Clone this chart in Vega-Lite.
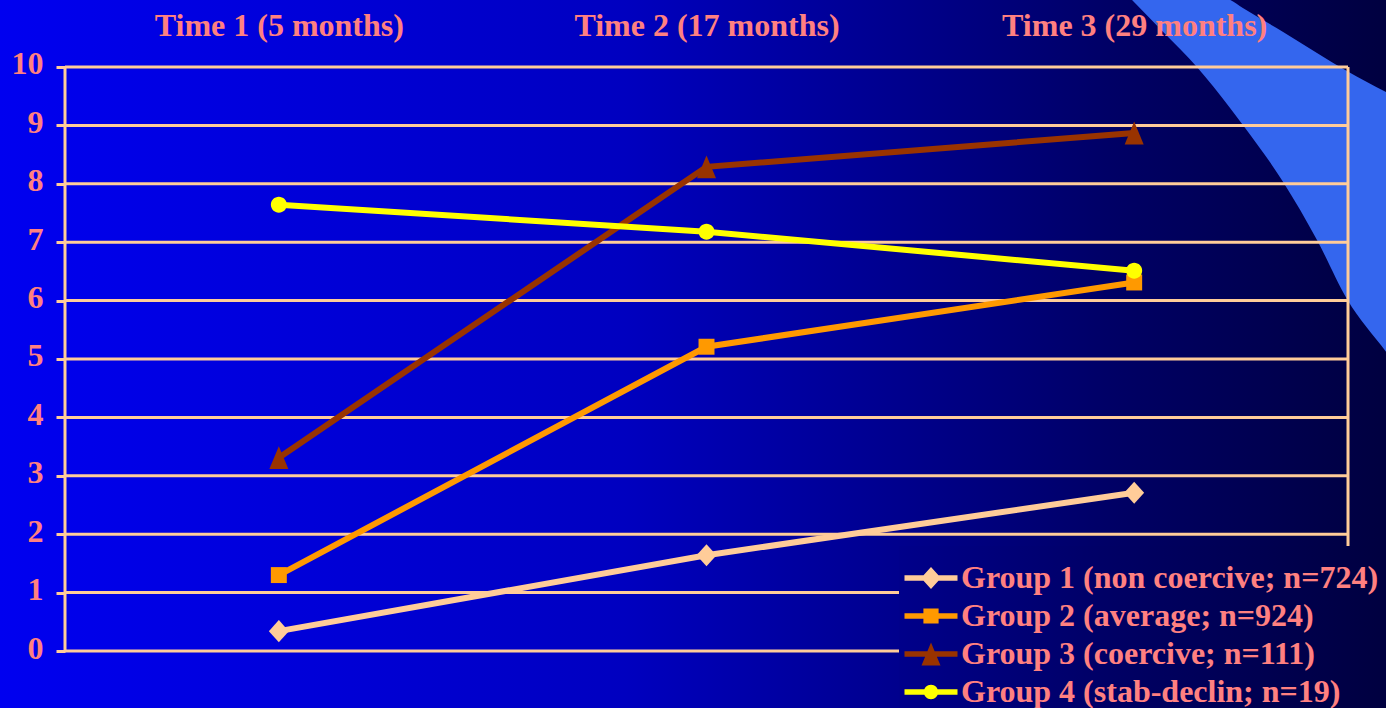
{
  "$schema": "https://vega.github.io/schema/vega-lite/v6.json",
  "width": 1386,
  "height": 708,
  "autosize": {"type": "none"},
  "padding": 0,
  "background": "#0000A0",
  "config": {
    "font": "Liberation Serif",
    "view": {
      "stroke": null,
      "fill": {
        "gradient": "linear", "x1": 0, "y1": 0, "x2": 1, "y2": 0,
        "stops": [
          {"offset": 0, "color": "#0000F0"},
          {"offset": 0.45, "color": "#0000C0"},
          {"offset": 0.8, "color": "#000066"},
          {"offset": 1, "color": "#000040"}
        ]
      }
    }
  },
  "datasets": {
    "scores": [
      {"group": "Group 1 (non coercive; n=724)", "month": 5, "score": 0.34},
      {"group": "Group 1 (non coercive; n=724)", "month": 17, "score": 1.64},
      {"group": "Group 1 (non coercive; n=724)", "month": 29, "score": 2.71},
      {"group": "Group 2 (average; n=924)", "month": 5, "score": 1.30},
      {"group": "Group 2 (average; n=924)", "month": 17, "score": 5.21},
      {"group": "Group 2 (average; n=924)", "month": 29, "score": 6.31},
      {"group": "Group 3 (coercive; n=111)", "month": 5, "score": 3.31},
      {"group": "Group 3 (coercive; n=111)", "month": 17, "score": 8.29},
      {"group": "Group 3 (coercive; n=111)", "month": 29, "score": 8.87},
      {"group": "Group 4 (stab-declin; n=19)", "month": 5, "score": 7.64},
      {"group": "Group 4 (stab-declin; n=19)", "month": 17, "score": 7.18},
      {"group": "Group 4 (stab-declin; n=19)", "month": 29, "score": 6.51}
    ],
    "levels": [
      {"level": 0}, {"level": 1}, {"level": 2}, {"level": 3}, {"level": 4}, {"level": 5},
      {"level": 6}, {"level": 7}, {"level": 8}, {"level": 9}, {"level": 10}
    ],
    "swoosh": [
      {"month": 28.70, "upper": 11.30, "lower": 11.30},
      {"month": 28.94, "upper": 11.30, "lower": 11.147},
      {"month": 29.87, "upper": 11.30, "lower": 10.565},
      {"month": 30.76, "upper": 11.30, "lower": 10.0},
      {"month": 31.69, "upper": 11.15, "lower": 9.298},
      {"month": 32.05, "upper": 11.01, "lower": 9.007},
      {"month": 33.18, "upper": 10.60, "lower": 8.031},
      {"month": 34.13, "upper": 10.24, "lower": 7.037},
      {"month": 34.97, "upper": 9.93, "lower": 6.027},
      {"month": 36.07, "upper": 9.57, "lower": 5.120},
      {"month": 36.30, "upper": 9.50, "lower": 4.930}
    ]
  },
  "layer": [
    {
      "data": {"name": "swoosh"},
      "mark": {"type": "area", "color": "#3466EE", "opacity": 1, "interpolate": "monotone"},
      "encoding": {
        "x": {"field": "month", "type": "quantitative", "scale": {"domain": [-2.824, 36.066], "nice": false, "zero": false}},
        "y": {"field": "upper", "type": "quantitative", "scale": {"domain": [-0.976, 11.147], "nice": false, "zero": false}},
        "y2": {"field": "lower"}
      }
    },
    {
      "data": {"name": "levels"},
      "mark": {"type": "rule", "color": "#FFCC99", "strokeWidth": 3},
      "encoding": {
        "y": {"field": "level", "type": "quantitative", "scale": {"domain": [-0.976, 11.147], "nice": false, "zero": false}},
        "x": {"datum": -1, "type": "quantitative", "scale": {"domain": [-2.824, 36.066], "nice": false, "zero": false}},
        "x2": {"datum": 35}
      }
    },
    {
      "data": {"values": [{}]},
      "mark": {"type": "rule", "color": "#FFCC99", "strokeWidth": 3},
      "encoding": {
        "x": {"datum": -1, "type": "quantitative", "scale": {"domain": [-2.824, 36.066], "nice": false, "zero": false}},
        "y": {"datum": 0, "type": "quantitative", "scale": {"domain": [-0.976, 11.147], "nice": false, "zero": false}},
        "y2": {"datum": 10}
      }
    },
    {
      "data": {"values": [{}]},
      "mark": {"type": "rule", "color": "#FFCC99", "strokeWidth": 3},
      "encoding": {
        "x": {"datum": 35, "type": "quantitative", "scale": {"domain": [-2.824, 36.066], "nice": false, "zero": false}},
        "y": {"datum": 0, "type": "quantitative", "scale": {"domain": [-0.976, 11.147], "nice": false, "zero": false}},
        "y2": {"datum": 10}
      }
    },
    {
      "data": {"name": "scores"},
      "mark": {"type": "line", "strokeWidth": 6},
      "encoding": {
        "x": {
          "field": "month", "type": "quantitative",
          "scale": {"domain": [-2.824, 36.066], "nice": false, "zero": false},
          "axis": {
            "orient": "top", "offset": -35, "values": [5, 17, 29],
            "labelExpr": "datum.value == 5 ? 'Time 1 (5 months)' : datum.value == 17 ? 'Time 2 (17 months)' : 'Time 3 (29 months)'",
            "title": null, "domain": false, "ticks": false, "tickSize": 0, "grid": false,
            "labelPadding": 0, "labelBaseline": "alphabetic", "labelLimit": 0,
            "labelFont": "Liberation Serif", "labelFontSize": 32, "labelFontWeight": "bold", "labelColor": "#FF8080",
            "labelFlush": false, "labelOverlap": false, "labelBound": false, "zindex": 1
          }
        },
        "y": {
          "field": "score", "type": "quantitative",
          "scale": {"domain": [-0.976, 11.147], "nice": false, "zero": false},
          "axis": {
            "orient": "left", "offset": -65, "values": [0, 1, 2, 3, 4, 5, 6, 7, 8, 9, 10], "format": "d",
            "title": null, "domain": false, "grid": false,
            "ticks": true, "tickSize": 9, "tickWidth": 3, "tickColor": "#FFCC99",
            "labelPadding": 13, "labelOffset": -3, "labelLimit": 0,
            "labelFont": "Liberation Serif", "labelFontSize": 32, "labelFontWeight": "bold", "labelColor": "#FF8080",
            "labelFlush": false, "labelOverlap": false, "labelBound": false, "zindex": 1
          }
        },
        "color": {
          "field": "group", "type": "nominal",
          "scale": {
            "domain": ["Group 1 (non coercive; n=724)", "Group 2 (average; n=924)", "Group 3 (coercive; n=111)", "Group 4 (stab-declin; n=19)"],
            "range": ["#FFCC99", "#FF9900", "#993300", "#FFFF00"]
          }
        }
      }
    },
    {
      "data": {"name": "scores"},
      "mark": {"type": "point", "filled": true, "opacity": 0, "size": 361, "strokeWidth": 0},
      "encoding": {
        "x": {"field": "month", "type": "quantitative", "scale": {"domain": [-2.824, 36.066], "nice": false, "zero": false}},
        "y": {"field": "score", "type": "quantitative", "scale": {"domain": [-0.976, 11.147], "nice": false, "zero": false}},
        "color": {
          "field": "group", "type": "nominal",
          "scale": {
            "domain": ["Group 1 (non coercive; n=724)", "Group 2 (average; n=924)", "Group 3 (coercive; n=111)", "Group 4 (stab-declin; n=19)"],
            "range": ["#FFCC99", "#FF9900", "#993300", "#FFFF00"]
          },
          "legend": {
            "title": null, "orient": "none", "legendX": 899, "legendY": 546, "padding": 16,
            "labelFont": "Liberation Serif", "labelFontSize": 32, "labelFontWeight": "bold", "labelColor": "#FF8080",
            "labelLimit": 0, "labelOffset": 14, "rowPadding": 6,
            "symbolSize": 361, "symbolStrokeWidth": 0, "symbolOpacity": 1,
            "encode": {
              "legend": {
                "update": {
                  "fill": {"value": {
                    "gradient": "linear", "x1": 0, "y1": 0, "x2": 1, "y2": 0,
                    "stops": [
                      {"offset": 0, "color": "#00008B"},
                      {"offset": 0.41, "color": "#000066"},
                      {"offset": 0.98, "color": "#000040"},
                      {"offset": 1, "color": "#000040"}
                    ]
                  }}
                }
              },
              "symbols": {
                "update": {
                  "stroke": {"value": "transparent"},
                  "strokeWidth": {"value": 0},
                  "opacity": {"value": 1}
                }
              }
            }
          }
        },
        "shape": {
          "field": "group", "type": "nominal",
          "scale": {
            "domain": ["Group 1 (non coercive; n=724)", "Group 2 (average; n=924)", "Group 3 (coercive; n=111)", "Group 4 (stab-declin; n=19)"],
            "range": [
              "M-2.79,-0.3H2.79V0.3H-2.79Z M0,-1.16L1.05,0L0,1.16L-1.05,0Z",
              "M-2.79,-0.3H2.79V0.3H-2.79Z M-0.8,-0.8H0.8V0.8H-0.8Z",
              "M-2.79,-0.3H2.79V0.3H-2.79Z M0,-1.2L1.0,1.2L-1.0,1.2Z",
              "M-2.79,-0.3H2.79V0.3H-2.79Z M-0.76,0A0.76,0.76,0,1,1,0.76,0A0.76,0.76,0,1,1,-0.76,0Z"
            ]
          }
        }
      }
    },
    {
      "data": {"name": "scores"},
      "transform": [{"filter": "datum.group === 'Group 1 (non coercive; n=724)'"}],
      "mark": {"type": "point", "filled": true, "opacity": 1, "size": 361, "strokeWidth": 0, "color": "#FFCC99", "shape": "M0,-1.16L1.05,0L0,1.16L-1.05,0Z"},
      "encoding": {
        "x": {"field": "month", "type": "quantitative", "scale": {"domain": [-2.824, 36.066], "nice": false, "zero": false}},
        "y": {"field": "score", "type": "quantitative", "scale": {"domain": [-0.976, 11.147], "nice": false, "zero": false}}
      }
    },
    {
      "data": {"name": "scores"},
      "transform": [{"filter": "datum.group === 'Group 2 (average; n=924)'"}],
      "mark": {"type": "point", "filled": true, "opacity": 1, "size": 361, "strokeWidth": 0, "color": "#FF9900", "shape": "M-0.84,-0.84H0.84V0.84H-0.84Z"},
      "encoding": {
        "x": {"field": "month", "type": "quantitative", "scale": {"domain": [-2.824, 36.066], "nice": false, "zero": false}},
        "y": {"field": "score", "type": "quantitative", "scale": {"domain": [-0.976, 11.147], "nice": false, "zero": false}}
      }
    },
    {
      "data": {"name": "scores"},
      "transform": [{"filter": "datum.group === 'Group 3 (coercive; n=111)'"}],
      "mark": {"type": "point", "filled": true, "opacity": 1, "size": 361, "strokeWidth": 0, "color": "#993300", "shape": "M0,-1.2L1.0,1.2L-1.0,1.2Z"},
      "encoding": {
        "x": {"field": "month", "type": "quantitative", "scale": {"domain": [-2.824, 36.066], "nice": false, "zero": false}},
        "y": {"field": "score", "type": "quantitative", "scale": {"domain": [-0.976, 11.147], "nice": false, "zero": false}}
      }
    },
    {
      "data": {"name": "scores"},
      "transform": [{"filter": "datum.group === 'Group 4 (stab-declin; n=19)'"}],
      "mark": {"type": "point", "filled": true, "opacity": 1, "size": 361, "strokeWidth": 0, "color": "#FFFF00", "shape": "M-0.84,0A0.84,0.84,0,1,1,0.84,0A0.84,0.84,0,1,1,-0.84,0Z"},
      "encoding": {
        "x": {"field": "month", "type": "quantitative", "scale": {"domain": [-2.824, 36.066], "nice": false, "zero": false}},
        "y": {"field": "score", "type": "quantitative", "scale": {"domain": [-0.976, 11.147], "nice": false, "zero": false}}
      }
    }
  ]
}
